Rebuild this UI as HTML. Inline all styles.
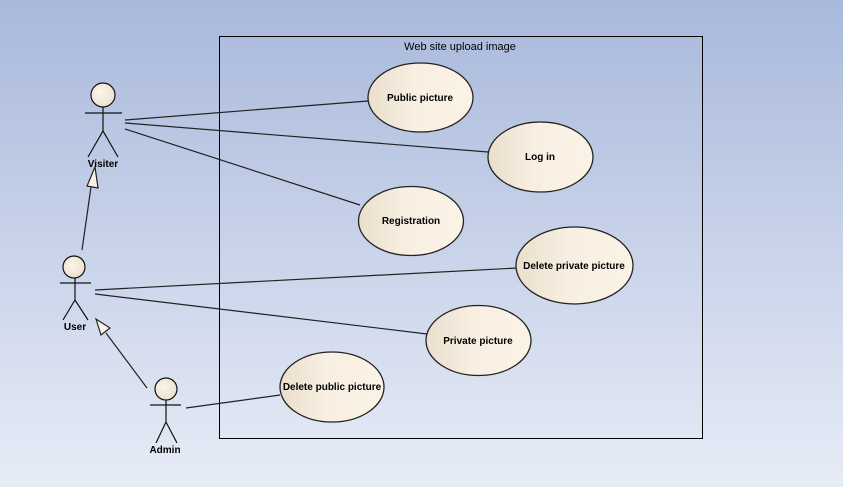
<!DOCTYPE html>
<html><head><meta charset="utf-8"><style>
html,body{margin:0;padding:0;width:843px;height:487px;overflow:hidden}
</style></head><body>
<svg width="843" height="487" xmlns="http://www.w3.org/2000/svg" font-family="Liberation Sans, sans-serif">
<defs>
<linearGradient id="bg" x1="0" y1="0" x2="0" y2="1">
<stop offset="0" stop-color="#a9b9dc"/><stop offset="1" stop-color="#e7ecf6"/>
</linearGradient>
<linearGradient id="uc" x1="0" y1="0" x2="1" y2="0">
<stop offset="0" stop-color="#eadfcc"/><stop offset="0.45" stop-color="#f8efe2"/><stop offset="1" stop-color="#fbf3e6"/>
</linearGradient>
<radialGradient id="hd" cx="0.4" cy="0.4" r="0.7">
<stop offset="0" stop-color="#fbf4e8"/><stop offset="1" stop-color="#eadfcc"/>
</radialGradient>
</defs>
<rect width="843" height="487" fill="url(#bg)"/>
<rect x="219.5" y="36.5" width="483" height="402" fill="none" stroke="#000" stroke-width="1"/>
<text x="460" y="50" font-size="11" text-anchor="middle" fill="#000">Web site upload image</text>
<g stroke="#222" stroke-width="1.2" fill="none">
<line x1="125" y1="120" x2="368" y2="101"/>
<line x1="125" y1="123" x2="488" y2="152"/>
<line x1="125" y1="129" x2="360" y2="205"/>
<line x1="95" y1="290" x2="517" y2="268"/>
<line x1="95" y1="294" x2="427" y2="334"/>
<line x1="186" y1="408" x2="280" y2="395"/>
<line x1="82" y1="250" x2="91" y2="187"/>
<line x1="147" y1="388" x2="106" y2="333"/>
</g>
<polygon points="95,167 87,186 98,188" fill="#fbf4e6" stroke="#222" stroke-width="1.2"/>
<polygon points="96,319 101,335 110,328" fill="#fbf4e6" stroke="#222" stroke-width="1.2"/>
<g stroke="#222" stroke-width="1.3" fill="url(#uc)">
<ellipse cx="420.5" cy="97.5" rx="52.5" ry="34.5"/>
<ellipse cx="540.5" cy="157" rx="52.5" ry="35"/>
<ellipse cx="411" cy="221" rx="52.5" ry="34.5"/>
<ellipse cx="574.5" cy="265.5" rx="58.5" ry="38.5"/>
<ellipse cx="478.5" cy="340.5" rx="52.5" ry="35"/>
<ellipse cx="332" cy="387" rx="52" ry="35"/>
</g>
<g font-size="10" font-weight="bold" text-anchor="middle" fill="#000">
<text x="420" y="101">Public picture</text>
<text x="540" y="160">Log in</text>
<text x="411" y="224">Registration</text>
<text x="574" y="269">Delete private picture</text>
<text x="478" y="344">Private picture</text>
<text x="332" y="390">Delete public picture</text>
</g>
<g stroke="#111" stroke-width="1.2" fill="none">
<circle cx="103" cy="95" r="12" fill="url(#hd)"/>
<line x1="85" y1="113" x2="122" y2="113"/><line x1="103" y1="107" x2="103" y2="131"/>
<polyline points="88,157 103,131 118,157"/>
<circle cx="74" cy="267" r="11" fill="url(#hd)"/>
<line x1="60" y1="283" x2="91" y2="283"/><line x1="75" y1="278" x2="75" y2="300"/>
<polyline points="63,320 75,300 88,320"/>
<circle cx="166" cy="389" r="11" fill="url(#hd)"/>
<line x1="150" y1="405" x2="181" y2="405"/><line x1="166" y1="400" x2="166" y2="422"/>
<polyline points="156,443 166,422 177,443"/>
</g>
<g font-size="10" font-weight="bold" text-anchor="middle" fill="#000">
<text x="103" y="167">Visiter</text>
<text x="75" y="330">User</text>
<text x="165" y="453">Admin</text>
</g>
</svg>
</body></html>
